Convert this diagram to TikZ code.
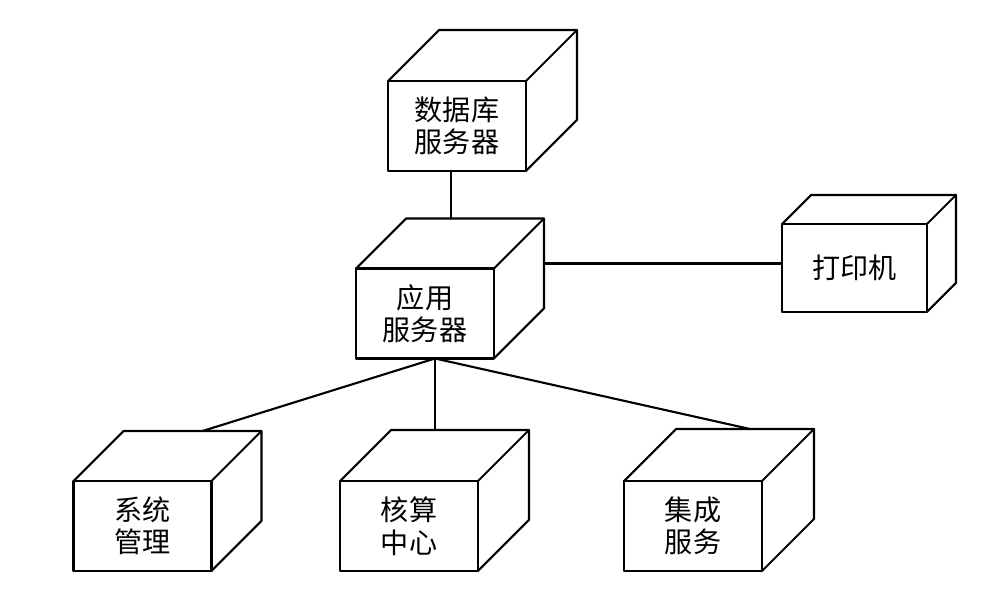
\documentclass[tikz,border=0pt]{standalone}
\usepackage{fontspec}
\setmainfont{Noto Sans CJK SC}
\begin{document}
\begin{tikzpicture}[x=0.02cm, y=-0.02cm, line cap=round, line join=round,
    face/.style={draw, line width=1.2pt, minimum width=2.76cm, minimum height=1.8cm,
      inner sep=0pt, outer sep=0pt, align=center, font=\fontsize{16}{18.5}\selectfont},
    link/.style={line width=1.2pt}]
  \useasboundingbox (0,0) rectangle (1004,615);
  % 正面
  \node[face] (db) at (457,126) {数据库\\服务器};
  \node[face] (app) at (425,313.5) {应用\\服务器};
  \node[face, minimum width=2.9cm, minimum height=1.76cm] (prn) at (854.5,268) {打印机};
  \node[face] (sys) at (142.5,526) {系统\\管理};
  \node[face] (acc) at (409,526) {核算\\中心};
  \node[face] (int) at (693,526) {集成\\服务};
  % 顶面与侧面
  \foreach \n/\d in {db/51, app/50, prn/29, sys/50, acc/51, int/52}{
    \draw[link] (\n.north west) -- ++(\d,-\d) coordinate (\n-tl)
      -- ([shift={(\d,-\d)}]\n.north east) coordinate (\n-tr)
      -- ([shift={(\d,-\d)}]\n.south east)
      -- (\n.south east);
    \draw[link] (\n.north east) -- (\n-tr);
    \coordinate (\n-e) at ([shift={(\d,-\d)}]\n.east);
  }
  % 连线
  \coordinate (drop) at ([shift={(-6,0)}]db.south);
  \draw[link] (drop) -- (drop |- app-tl);
  \draw[link] (app-e) -- (app-e -| prn.west);
  \coordinate (hub) at ([shift={(10,0)}]app.south);
  \draw[link] (hub) -- ([shift={(79,0)}]sys-tl);
  \draw[link] (hub) -- (hub |- acc-tl);
  \draw[link] (hub) -- ([shift={(74,0)}]int-tl);
\end{tikzpicture}
\end{document}
